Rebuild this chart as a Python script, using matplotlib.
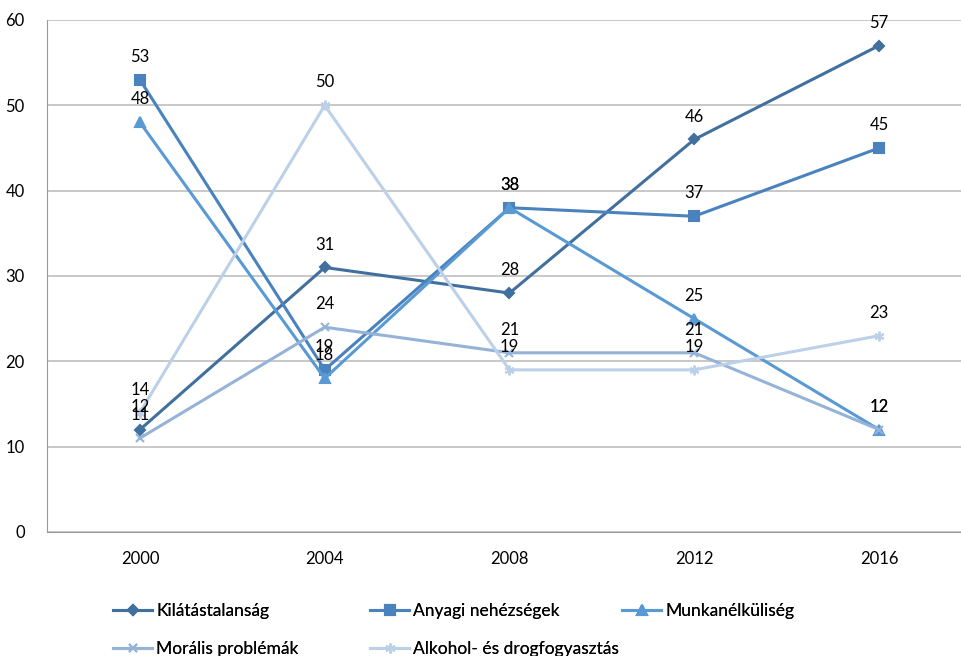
import numpy as np
import matplotlib
matplotlib.use("Agg")
import matplotlib.pyplot as plt

years = ["2000", "2004", "2008", "2012", "2016"]
series_names = ["Kilátástalanság", "Anyagi nehézségek", "Munkanélküliség",
                "Morális problémák", "Alkohol- és drogfogyasztás"]
kilatastalansag = [12, 31, 28, 46, 57]
anyagi = [53, 19, 38, 37, 45]
munkanelkuliseg = [48, 18, 38, 25, 12]
moralis = [11, 24, 21, 21, 12]
alkohol = [14, 50, 19, 19, 23]

colors = ["#41709F", "#4A82BE", "#5A9AD4", "#95B3D7", "#BCD0E8"]
markers = ["D", "s", "^", "x", (6, 2, 0)]
msizes = [5, 7, 7, 6, 7]

plt.rcParams["font.family"] = ["Lato", "DejaVu Sans"]

fig = plt.figure(figsize=(9.62, 6.56), dpi=100)
ax = fig.add_axes([47 / 962, 124 / 656, 915 / 962, 512 / 656])

x = np.arange(len(years))
data = [kilatastalansag, anyagi, munkanelkuliseg, moralis, alkohol]
lines = []
for name, vals, c, m, ms in zip(series_names, data, colors, markers, msizes):
    ln, = ax.plot(x, vals, color=c, lw=2.2, marker=m, ms=ms, mew=1.5,
                  mec=c, mfc=c, label=name, zorder=3)
    lines.append(ln)
    for xi, v in zip(x, vals):
        ax.annotate(str(v), (xi, v), xytext=(0, 16.5), textcoords="offset points",
                    ha="center", va="center", fontsize=12, color="black", zorder=4)

ax.set_xlim(-0.503, 4.449)
ax.set_ylim(0, 60)
ax.set_yticks(range(0, 61, 10))
ax.set_xticks(x)
ax.set_xticklabels(years)
ax.tick_params(axis="both", length=0, labelsize=12, colors="black")
ax.tick_params(axis="x", pad=14)
ax.tick_params(axis="y", pad=16)
ax.grid(axis="y", color="#BFBFBF", lw=1.2)
ax.set_axisbelow(True)
for s in ["top", "right"]:
    ax.spines[s].set_visible(False)
ax.spines["left"].set_color("#999999")
ax.spines["bottom"].set_color("#999999")

# equal-width legend columns, one legend per column
columns = [[0, 3], [1, 4], [2]]
col_x = [113, 370, 622]
for idx, cx in zip(columns, col_x):
    leg = fig.legend([lines[i] for i in idx], [series_names[i] for i in idx],
                     loc="upper left", bbox_to_anchor=(cx / 962, 1 - 603 / 656),
                     frameon=False, fontsize=12.5, handlelength=2.25,
                     handletextpad=0.25, labelspacing=1.25, borderpad=0,
                     borderaxespad=0)
    fig.add_artist(leg)

fig.savefig("out.png", dpi=100)
